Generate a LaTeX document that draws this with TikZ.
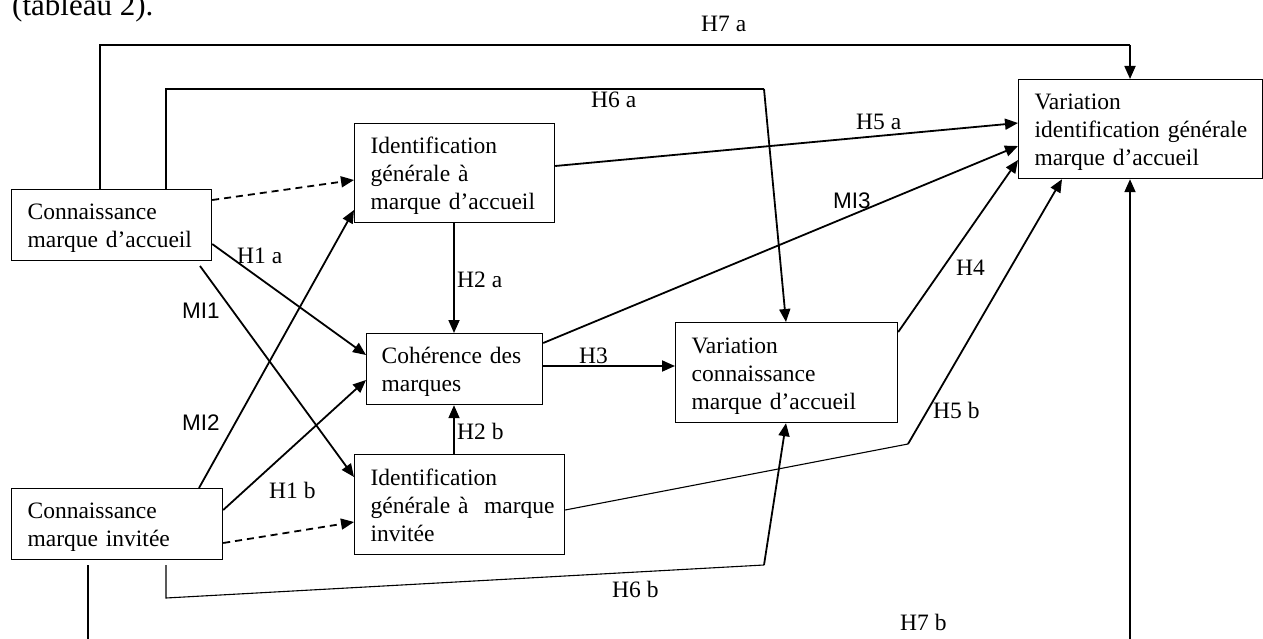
\documentclass[tikz,border=0pt]{standalone}
\usepackage{fontspec}
\setmainfont{Liberation Serif}
\newfontfamily\misans{Liberation Sans}
\usetikzlibrary{arrows.meta}
\newcommand\bxtop{\rule{0pt}{24pt}}
\newcommand\bxbot{\rule[-6.5pt]{0pt}{0pt}}
\tikzset{
  boxnode/.style={draw,line width=1.2pt,rectangle,inner xsep=16pt,inner ysep=0pt,
    align=left,font=\fontsize{23.5}{28}\selectfont,anchor=north west},
  thickline/.style={line width=1.8pt},
  thinline/.style={line width=1.1pt},
  arr/.style={-{Triangle[length=13pt,width=11pt]}},
  lbl/.style={anchor=base west,inner sep=0pt,font=\fontsize{23.5}{28}\selectfont},
  milbl/.style={anchor=base west,inner sep=0pt,font=\misans\fontsize{22.5}{27}\selectfont},
}
\begin{document}
\begin{tikzpicture}[x=1pt,y=-1pt]
\useasboundingbox (0,0) rectangle (1263,639);
\node[anchor=base west,inner sep=0pt,font=\fontsize{31}{36}\selectfont] (head) at (12,16) {(tableau 2).};
% boxes
\node[boxnode,text width=168pt,minimum height=71pt] (A) at (11,189) {\mbox{\bxtop Connaissance}\\\mbox{marque d’accueil\bxbot}};
\node[boxnode,text width=179pt,minimum height=71pt] (B) at (11,488) {\mbox{\bxtop Connaissance}\\\mbox{marque invitée\bxbot}};
\node[boxnode,text width=168pt,minimum height=99pt] (C) at (354,123) {\mbox{\bxtop Identification}\\\mbox{générale à}\\\mbox{marque d’accueil\bxbot}};
\node[boxnode,text width=146pt,minimum height=71pt,inner xsep=15pt] (D) at (366,333) {\mbox{\bxtop Cohérence des}\\\mbox{marques\bxbot}};
\node[boxnode,text width=178pt,minimum height=100pt] (E) at (354,454) {\mbox{\bxtop Identification}\\\mbox{générale à\ \ marque}\\\mbox{invitée\bxbot}};
\node[boxnode,text width=190pt,minimum height=100pt] (F) at (675,322) {\mbox{\bxtop Variation}\\\mbox{connaissance}\\\mbox{marque d’accueil\bxbot}};
\node[boxnode,text width=212pt,minimum height=99pt] (G) at (1018,79) {\mbox{\bxtop Variation}\\\mbox{identification générale}\\\mbox{marque d’accueil\bxbot}};
% corner coordinates
\coordinate (h7a1) at (100,45);
\coordinate (h7a2) at (1130,45);
\coordinate (h6a1) at (166,89);
\coordinate (h6a2) at (764,89);
\coordinate (h5b1) at (908,444);
\coordinate (h6b1) at (166,565);
\coordinate (h6b2) at (166,598);
\coordinate (h6b3) at (764,565);
\coordinate (h7b1) at (88,565);
\coordinate (h7b2) at (88,639);
\coordinate (h7b3) at (1130,639);
% H7 a
\draw[thinline] (h7a1 |- A.north) -- (h7a1) -- (h7a2);
\draw[thickline,arr] (h7a2) -- (h7a2 |- G.north);
% H6 a
\draw[thinline] (h6a1 |- A.north) -- (h6a1) -- (h6a2);
\draw[thickline,arr] (h6a2) -- (786,0 |- F.north);
% dashed
\draw[thickline,dashed,dash pattern=on 7pt off 5pt,arr] (A.east |- 0,200) -- (C.west |- 0,180);
\draw[thickline,dashed,dash pattern=on 7pt off 5pt,arr] (B.east |- 0,543) -- (E.west |- 0,522);
% H1 a, H1 b
\draw[thickline,arr] (A.east |- 0,244) -- (D.west |- 0,355);
\draw[thickline,arr] (B.east |- 0,510) -- (D.west |- 0,380);
% MI1, MI2
\draw[thickline,arr] (200,266) -- (E.west |- 0,477);
\draw[thickline,arr] (199,0 |- B.north) -- (C.west |- 0,210);
% H2 a, H2 b
\draw[thickline,arr] (454,0 |- C.south) -- (454,0 |- D.north);
\draw[thickline,arr] (454,0 |- E.north) -- (454,0 |- D.south);
% H3
\draw[thickline,arr] (D.east |- 0,366) -- (F.west |- 0,366);
% MI3
\draw[thickline,arr] (D.east |- 0,343) -- (G.west |- 0,146);
% H5 a
\draw[thickline,arr] (C.east |- 0,166) -- (G.west |- 0,123);
% H4
\draw[thickline,arr] (F.east |- 0,332) -- (G.west |- 0,160);
% H5 b
\draw[thinline] (E.east |- 0,510) -- (h5b1);
\draw[thickline,arr] (h5b1) -- (1062,0 |- G.south);
% H6 b
\draw[thinline] (h6b1) -- (h6b2) -- (h6b3);
\draw[thickline,arr] (h6b3) -- (786,0 |- F.south);
% H7 b
\draw[thinline] (h7b1) -- (h7b2);
\draw[thickline,arr] (h7b3) -- (1130,0 |- G.south);
% labels
\node[lbl] (lh7a) at (701,32) {H7 a};
\node[lbl] (lh6a) at (591,108) {H6 a};
\node[lbl] (lh5a) at (856,130) {H5 a};
\node[milbl] (lmi3) at (833,208) {MI3};
\node[lbl] (lh4) at (956,275) {H4};
\node[lbl] (lh2a) at (457,287) {H2 a};
\node[lbl] (lh1a) at (237,263) {H1 a};
\node[milbl] (lmi1) at (182,318) {MI1};
\node[milbl] (lmi2) at (182,430) {MI2};
\node[lbl] (lh3) at (579,363) {H3};
\node[lbl] (lh2b) at (457,439) {H2 b};
\node[lbl] (lh1b) at (269,498) {H1 b};
\node[lbl] (lh5b) at (933,418) {H5 b};
\node[lbl] (lh6b) at (612,597) {H6 b};
\node[lbl] (lh7b) at (900,630) {H7 b};
\end{tikzpicture}
\end{document}
